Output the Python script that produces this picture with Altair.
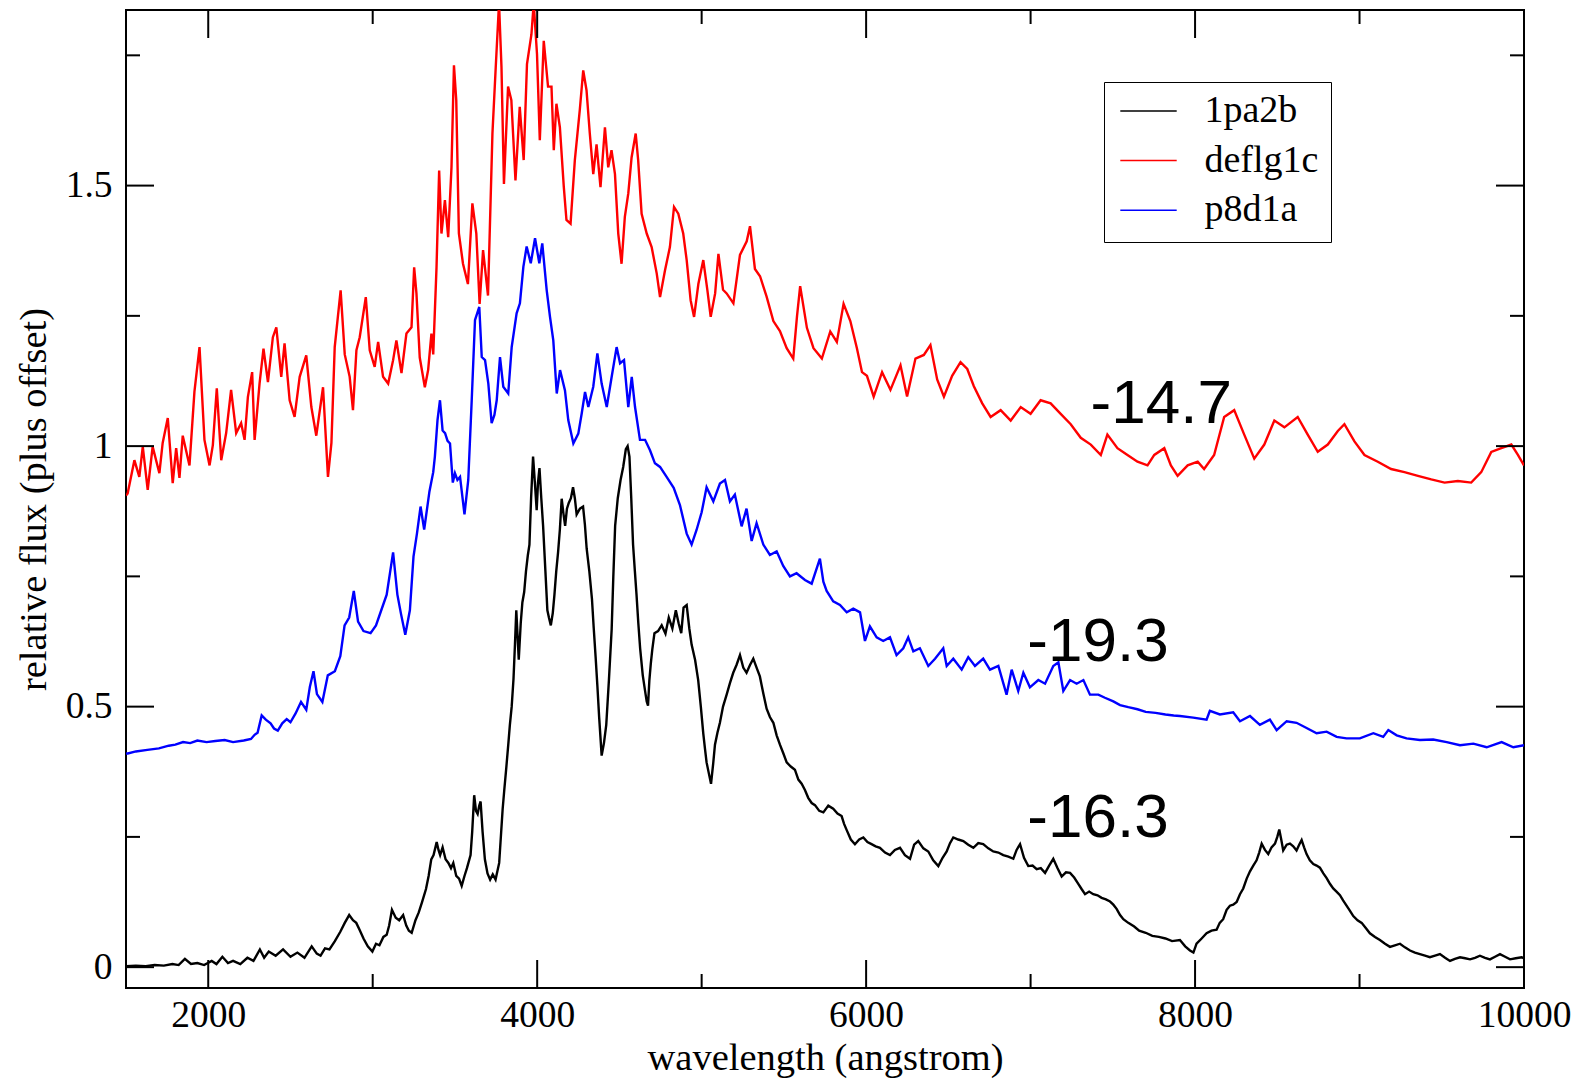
import altair as alt
import pandas as pd

# ---------------- data ----------------
SERIES = ["1pa2b", "deflg1c", "p8d1a"]
COLORS = ["#000000", "#ff0000", "#0000ff"]

BLACK_WL = [1500, 1560, 1620, 1674, 1730, 1782, 1820, 1858, 1895, 1934, 1975, 2021, 2050, 2086, 2120, 2151, 2195, 2238, 2275, 2314,
            2340, 2368, 2410, 2455, 2500, 2542, 2585, 2629, 2660, 2683, 2710, 2737, 2770, 2803, 2830, 2857, 2880, 2900, 2920, 2944,
            2970, 2998, 3020, 3041, 3065, 3085, 3100, 3117, 3140, 3161, 3185, 3204, 3220, 3237, 3260, 3280, 3300, 3324, 3340, 3356,
            3370, 3389, 3400, 3410, 3425, 3443, 3460, 3476, 3490, 3508, 3525, 3541, 3558, 3573, 3595, 3605, 3617, 3628, 3638, 3648,
            3656, 3668, 3682, 3698, 3714, 3730, 3747, 3769, 3790, 3800, 3812, 3825, 3834, 3845, 3856, 3865, 3873, 3888, 3900, 3910,
            3921, 3932, 3943, 3953, 3963, 3975, 3986, 3997, 4005, 4014, 4025, 4036, 4050, 4062, 4072, 4083, 4095, 4105, 4116, 4127,
            4138, 4149, 4160, 4170, 4181, 4192, 4205, 4218, 4229, 4240, 4260, 4279, 4290, 4301, 4317, 4333, 4344, 4355, 4366, 4377,
            4385, 4392, 4406, 4420, 4436, 4453, 4463, 4474, 4490, 4507, 4523, 4539, 4550, 4561, 4572, 4583, 4594, 4604, 4615, 4626,
            4642, 4659, 4666, 4674, 4682, 4691, 4700, 4713, 4735, 4757, 4780, 4800, 4822, 4843, 4860, 4876, 4890, 4909, 4925, 4939,
            4960, 4979, 4995, 5010, 5020, 5030, 5045, 5057, 5070, 5081, 5096, 5111, 5130, 5152, 5172, 5192, 5212, 5233, 5253, 5273,
            5294, 5314, 5334, 5354, 5375, 5395, 5415, 5436, 5456, 5476, 5497, 5517, 5542, 5567, 5588, 5608, 5628, 5648, 5669, 5689,
            5715, 5740, 5770, 5800, 5826, 5851, 5866, 5882, 5907, 5932, 5958, 5983, 6008, 6033, 6058, 6084, 6115, 6145, 6175, 6206,
            6236, 6267, 6292, 6317, 6348, 6378, 6408, 6439, 6465, 6490, 6510, 6530, 6560, 6591, 6621, 6652, 6682, 6712, 6743, 6773,
            6804, 6834, 6865, 6895, 6915, 6936, 6960, 6986, 7012, 7037, 7062, 7088, 7113, 7138, 7164, 7189, 7215, 7240, 7265, 7290,
            7310, 7331, 7356, 7381, 7407, 7432, 7458, 7483, 7503, 7523, 7544, 7564, 7594, 7630, 7660, 7700, 7740, 7780, 7820, 7860,
            7908, 7940, 7969, 7990, 8009, 8040, 8070, 8100, 8131, 8150, 8171, 8192, 8212, 8232, 8253, 8273, 8293, 8314, 8334, 8354,
            8374, 8390, 8405, 8425, 8445, 8465, 8486, 8500, 8512, 8524, 8536, 8557, 8577, 8597, 8617, 8633, 8648, 8663, 8678, 8698,
            8719, 8739, 8759, 8780, 8800, 8820, 8840, 8860, 8881, 8900, 8921, 8942, 8962, 8988, 9013, 9038, 9063, 9094, 9124, 9155,
            9185, 9215, 9246, 9276, 9307, 9337, 9367, 9398, 9428, 9459, 9489, 9520, 9550, 9580, 9611, 9642, 9672, 9702, 9732, 9763,
            9793, 9824, 9854, 9885, 9915, 9950, 9986, 10000]
BLACK_FLUX = [0.002, 0.003, 0.002, 0.004, 0.003, 0.006, 0.004, 0.016, 0.006, 0.008, 0.004, 0.012, 0.006, 0.02, 0.008, 0.012, 0.006, 0.018, 0.012, 0.034,
              0.018, 0.03, 0.022, 0.034, 0.02, 0.028, 0.018, 0.04, 0.026, 0.022, 0.036, 0.034, 0.05, 0.068, 0.085, 0.1, 0.09, 0.085, 0.072, 0.055,
              0.04, 0.03, 0.045, 0.042, 0.058, 0.062, 0.08, 0.11, 0.095, 0.09, 0.1, 0.08, 0.07, 0.066, 0.09, 0.105, 0.125, 0.15, 0.175, 0.207,
              0.215, 0.24, 0.225, 0.215, 0.23, 0.207, 0.2, 0.19, 0.2, 0.175, 0.17, 0.156, 0.175, 0.19, 0.215, 0.26, 0.33, 0.3, 0.294, 0.31,
              0.318, 0.26, 0.207, 0.18, 0.168, 0.178, 0.168, 0.2, 0.303, 0.34, 0.382, 0.43, 0.465, 0.5, 0.553, 0.62, 0.685, 0.59, 0.66, 0.7,
              0.72, 0.76, 0.79, 0.811, 0.9, 0.98, 0.93, 0.877, 0.93, 0.958, 0.9, 0.847, 0.76, 0.685, 0.67, 0.656, 0.68, 0.715, 0.76, 0.796,
              0.84, 0.899, 0.87, 0.847, 0.88, 0.891, 0.9, 0.921, 0.9, 0.869, 0.88, 0.884, 0.85, 0.803, 0.76, 0.707, 0.65, 0.597, 0.54, 0.479,
              0.44, 0.406, 0.43, 0.465, 0.55, 0.649, 0.75, 0.847, 0.9, 0.935, 0.96, 0.994, 1.0, 0.98, 0.9, 0.811, 0.76, 0.715, 0.66, 0.612,
              0.56, 0.524, 0.51, 0.502, 0.55, 0.583, 0.61, 0.641, 0.645, 0.656, 0.64, 0.671, 0.65, 0.685, 0.66, 0.641, 0.69, 0.695, 0.65, 0.619,
              0.59, 0.551, 0.5, 0.448, 0.42, 0.393, 0.37, 0.352, 0.39, 0.427, 0.45, 0.469, 0.5, 0.523, 0.545, 0.565, 0.58, 0.599, 0.575, 0.565,
              0.58, 0.592, 0.575, 0.558, 0.525, 0.496, 0.48, 0.469, 0.445, 0.427, 0.41, 0.393, 0.385, 0.379, 0.36, 0.352, 0.34, 0.325, 0.315, 0.311,
              0.3, 0.297, 0.31, 0.304, 0.295, 0.29, 0.275, 0.263, 0.245, 0.236, 0.245, 0.249, 0.24, 0.236, 0.232, 0.229, 0.22, 0.215, 0.225, 0.229,
              0.215, 0.208, 0.235, 0.242, 0.228, 0.222, 0.205, 0.194, 0.21, 0.222, 0.238, 0.249, 0.245, 0.242, 0.235, 0.229, 0.238, 0.236, 0.228, 0.222,
              0.22, 0.215, 0.212, 0.208, 0.225, 0.236, 0.21, 0.194, 0.195, 0.188, 0.19, 0.181, 0.195, 0.208, 0.19, 0.174, 0.182, 0.181, 0.172, 0.16,
              0.15, 0.14, 0.145, 0.14, 0.138, 0.133, 0.13, 0.126, 0.12, 0.112, 0.1, 0.092, 0.085, 0.078, 0.07, 0.066, 0.06, 0.058, 0.055, 0.05,
              0.052, 0.04, 0.032, 0.028, 0.045, 0.055, 0.065, 0.07, 0.072, 0.085, 0.092, 0.11, 0.118, 0.12, 0.125, 0.14, 0.151, 0.17, 0.184, 0.195,
              0.205, 0.22, 0.237, 0.225, 0.217, 0.23, 0.237, 0.25, 0.264, 0.245, 0.224, 0.235, 0.237, 0.232, 0.224, 0.235, 0.244, 0.23, 0.217, 0.205,
              0.198, 0.195, 0.191, 0.18, 0.171, 0.16, 0.151, 0.145, 0.138, 0.128, 0.118, 0.108, 0.098, 0.09, 0.085, 0.075, 0.065, 0.058, 0.052, 0.045,
              0.039, 0.042, 0.045, 0.038, 0.032, 0.028, 0.025, 0.022, 0.019, 0.022, 0.025, 0.018, 0.012, 0.016, 0.019, 0.017, 0.015, 0.018, 0.022, 0.018,
              0.015, 0.02, 0.025, 0.02, 0.015, 0.017, 0.019, 0.017]

RED_WL = [1500, 1510, 1551, 1581, 1602, 1632, 1662, 1703, 1723, 1754, 1784, 1805, 1825, 1845, 1886, 1916, 1947, 1977, 2008, 2028,
          2052, 2079, 2109, 2139, 2170, 2200, 2221, 2241, 2267, 2282, 2312, 2336, 2363, 2393, 2414, 2444, 2464, 2495, 2525, 2556,
          2596, 2627, 2657, 2698, 2728, 2749, 2769, 2805, 2830, 2860, 2880, 2901, 2921, 2958, 2982, 3012, 3033, 3063, 3094, 3124,
          3144, 3175, 3205, 3236, 3252, 3266, 3286, 3317, 3337, 3357, 3368, 3388, 3404, 3418, 3439, 3459, 3479, 3494, 3508, 3524,
          3549, 3579, 3606, 3630, 3650, 3671, 3701, 3728, 3748, 3768, 3783, 3798, 3823, 3843, 3868, 3894, 3918, 3938, 3965, 3979,
          3999, 4016, 4040, 4066, 4087, 4101, 4117, 4138, 4162, 4178, 4203, 4229, 4259, 4280, 4300, 4320, 4341, 4361, 4385, 4412,
          4432, 4452, 4473, 4493, 4513, 4533, 4554, 4574, 4599, 4614, 4635, 4666, 4696, 4727, 4747, 4777, 4807, 4832, 4858, 4888,
          4909, 4933, 4954, 4980, 5010, 5035, 5055, 5082, 5102, 5130, 5152, 5193, 5233, 5274, 5294, 5324, 5355, 5395, 5436, 5476,
          5517, 5557, 5580, 5599, 5640, 5680, 5731, 5782, 5822, 5863, 5904, 5944, 5975, 6005, 6046, 6097, 6148, 6209, 6249, 6300,
          6351, 6391, 6432, 6473, 6523, 6574, 6615, 6655, 6706, 6757, 6818, 6879, 6940, 7000, 7061, 7122, 7183, 7244, 7305, 7366,
          7427, 7467, 7528, 7589, 7650, 7711, 7752, 7813, 7853, 7894, 7955, 8016, 8055, 8116, 8177, 8238, 8299, 8360, 8421, 8482,
          8543, 8624, 8685, 8746, 8807, 8868, 8908, 8969, 9030, 9111, 9192, 9273, 9355, 9436, 9517, 9598, 9679, 9740, 9801, 9862,
          9923, 9963, 10000]
RED_FLUX = [0.905, 0.909, 0.973, 0.941, 0.999, 0.916, 0.999, 0.948, 1.006, 1.054, 0.929, 0.996, 0.939, 1.02, 0.963, 1.104, 1.19, 1.012, 0.963, 1.002,
            1.111, 0.973, 1.025, 1.108, 1.025, 1.044, 1.012, 1.094, 1.142, 1.012, 1.12, 1.187, 1.123, 1.209, 1.228, 1.133, 1.197, 1.088, 1.056, 1.133,
            1.174, 1.075, 1.02, 1.113, 0.941, 1.006, 1.19, 1.299, 1.176, 1.133, 1.069, 1.184, 1.209, 1.286, 1.184, 1.152, 1.2, 1.133, 1.12, 1.165,
            1.203, 1.14, 1.216, 1.228, 1.343, 1.293, 1.17, 1.113, 1.146, 1.216, 1.176, 1.343, 1.529, 1.408, 1.472, 1.401, 1.535, 1.731, 1.664, 1.408,
            1.35, 1.311, 1.466, 1.408, 1.273, 1.376, 1.289, 1.6, 1.727, 1.85, 1.727, 1.503, 1.69, 1.664, 1.51, 1.651, 1.549, 1.733, 1.79, 1.85,
            1.752, 1.587, 1.778, 1.69, 1.69, 1.568, 1.657, 1.612, 1.497, 1.434, 1.427, 1.549, 1.645, 1.721, 1.683, 1.6, 1.522, 1.579, 1.497, 1.612,
            1.535, 1.568, 1.522, 1.408, 1.35, 1.44, 1.485, 1.554, 1.6, 1.549, 1.446, 1.408, 1.382, 1.331, 1.286, 1.337, 1.382, 1.459, 1.446, 1.408,
            1.357, 1.28, 1.248, 1.311, 1.357, 1.299, 1.248, 1.293, 1.369, 1.3, 1.293, 1.274, 1.367, 1.393, 1.422, 1.34, 1.326, 1.287, 1.24, 1.221,
            1.188, 1.168, 1.25, 1.307, 1.227, 1.188, 1.168, 1.22, 1.2, 1.273, 1.24, 1.188, 1.142, 1.135, 1.095, 1.142, 1.108, 1.155, 1.095, 1.168,
            1.175, 1.194, 1.128, 1.095, 1.135, 1.161, 1.148, 1.115, 1.082, 1.056, 1.069, 1.049, 1.075, 1.062, 1.088, 1.082, 1.062, 1.042, 1.016, 1.003,
            0.983, 1.022, 0.996, 0.983, 0.97, 0.963, 0.983, 0.996, 0.963, 0.943, 0.963, 0.97, 0.956, 0.983, 1.056, 1.069, 1.022, 0.976, 1.003, 1.049,
            1.036, 1.056, 1.022, 0.989, 1.003, 1.029, 1.042, 1.009, 0.983, 0.97, 0.956, 0.95, 0.943, 0.936, 0.93, 0.933, 0.93, 0.95, 0.989, 0.996,
            1.003, 0.983, 0.963]

BLUE_WL = [1500, 1511, 1560, 1630, 1700, 1760, 1800, 1847, 1890, 1934, 1990, 2043, 2100, 2151, 2216, 2260, 2282, 2300, 2325, 2350,
           2379, 2400, 2423, 2450, 2477, 2500, 2531, 2564, 2596, 2618, 2640, 2661, 2694, 2727, 2770, 2803, 2829, 2857, 2885, 2911,
           2944, 2987, 3020, 3052, 3085, 3124, 3150, 3172, 3198, 3226, 3248, 3269, 3291, 3313, 3345, 3368, 3378, 3394, 3409, 3425,
           3440, 3455, 3470, 3487, 3500, 3515, 3531, 3558, 3581, 3602, 3622, 3648, 3663, 3683, 3703, 3723, 3740, 3754, 3774, 3794,
           3824, 3845, 3875, 3895, 3916, 3936, 3961, 3987, 4013, 4031, 4058, 4078, 4098, 4119, 4139, 4169, 4189, 4220, 4250, 4271,
           4291, 4311, 4341, 4366, 4392, 4423, 4453, 4483, 4504, 4528, 4554, 4575, 4595, 4625, 4656, 4686, 4716, 4747, 4787, 4830,
           4868, 4909, 4939, 4969, 5000, 5030, 5071, 5111, 5142, 5172, 5202, 5243, 5273, 5304, 5334, 5375, 5415, 5456, 5496, 5537,
           5577, 5628, 5669, 5719, 5740, 5760, 5800, 5841, 5882, 5922, 5963, 5993, 6023, 6064, 6104, 6145, 6185, 6226, 6256, 6287,
           6327, 6378, 6419, 6469, 6490, 6530, 6581, 6621, 6662, 6712, 6753, 6804, 6854, 6885, 6925, 6956, 6996, 7047, 7088, 7138,
           7169, 7199, 7240, 7280, 7321, 7361, 7412, 7452, 7503, 7544, 7594, 7650, 7700, 7760, 7820, 7870, 7908, 7989, 8070, 8090,
           8151, 8232, 8273, 8334, 8394, 8455, 8496, 8557, 8617, 8678, 8739, 8800, 8861, 8921, 9002, 9084, 9144, 9175, 9226, 9286,
           9367, 9448, 9530, 9611, 9692, 9773, 9864, 9935, 10000]
BLUE_FLUX = [0.41, 0.41, 0.414, 0.417, 0.42, 0.425, 0.427, 0.432, 0.43, 0.435, 0.432, 0.434, 0.436, 0.432, 0.435, 0.438, 0.446, 0.45, 0.483, 0.475,
             0.468, 0.458, 0.454, 0.468, 0.476, 0.47, 0.487, 0.509, 0.494, 0.538, 0.568, 0.524, 0.509, 0.56, 0.568, 0.597, 0.656, 0.671, 0.722, 0.663,
             0.645, 0.641, 0.656, 0.685, 0.715, 0.796, 0.715, 0.678, 0.638, 0.685, 0.788, 0.832, 0.884, 0.84, 0.913, 0.95, 0.98, 1.05, 1.088, 1.03,
             1.025, 1.01, 1.005, 0.93, 0.948, 0.935, 0.941, 0.869, 0.935, 1.088, 1.242, 1.267, 1.171, 1.165, 1.12, 1.044, 1.06, 1.088, 1.171, 1.114,
             1.101, 1.19, 1.255, 1.274, 1.344, 1.383, 1.351, 1.399, 1.351, 1.389, 1.299, 1.248, 1.203, 1.101, 1.146, 1.107, 1.05, 1.005, 1.024, 1.063,
             1.104, 1.075, 1.114, 1.178, 1.12, 1.075, 1.133, 1.19, 1.159, 1.165, 1.075, 1.133, 1.075, 1.012, 1.012, 0.992, 0.967, 0.96, 0.941, 0.92,
             0.887, 0.832, 0.811, 0.839, 0.873, 0.921, 0.894, 0.928, 0.935, 0.894, 0.907, 0.846, 0.88, 0.818, 0.852, 0.811, 0.791, 0.798, 0.77, 0.75,
             0.756, 0.743, 0.736, 0.784, 0.74, 0.722, 0.702, 0.695, 0.681, 0.688, 0.681, 0.626, 0.654, 0.633, 0.626, 0.633, 0.599, 0.612, 0.633, 0.606,
             0.612, 0.578, 0.592, 0.612, 0.578, 0.592, 0.571, 0.595, 0.578, 0.592, 0.571, 0.578, 0.523, 0.571, 0.53, 0.565, 0.537, 0.551, 0.544, 0.578,
             0.585, 0.53, 0.551, 0.544, 0.551, 0.523, 0.523, 0.517, 0.51, 0.503, 0.499, 0.495, 0.49, 0.488, 0.485, 0.483, 0.482, 0.479, 0.475, 0.492,
             0.485, 0.489, 0.472, 0.482, 0.465, 0.475, 0.455, 0.472, 0.469, 0.459, 0.449, 0.452, 0.442, 0.439, 0.439, 0.449, 0.442, 0.455, 0.445, 0.439,
             0.436, 0.437, 0.432, 0.426, 0.429, 0.422, 0.432, 0.422, 0.426]

X_MAJOR = [2000, 4000, 6000, 8000, 10000]
X_MINOR = [3000, 5000, 7000, 9000]
Y_MAJOR = [0, 0.5, 1, 1.5]
Y_MINOR = [0.25, 0.75, 1.25, 1.75]

NOTE_TEXT = ["-14.7", "-19.3", "-16.3"]
NOTE_WL = [7365, 6980, 6980]
NOTE_FLUX = [1.045, 0.587, 0.250]

X_DOMAIN = [1500, 10000]
Y_DOMAIN = [-0.04, 1.837]

# ---------------- tables ----------------
rows = []
for name, xs, ys in [("1pa2b", BLACK_WL, BLACK_FLUX), ("deflg1c", RED_WL, RED_FLUX), ("p8d1a", BLUE_WL, BLUE_FLUX)]:
    for i, (x, y) in enumerate(zip(xs, ys)):
        rows.append({"wavelength": x, "flux": y, "series": name, "idx": i})
spec_df = pd.DataFrame(rows)
notes_df = pd.DataFrame({"wavelength": NOTE_WL, "flux": NOTE_FLUX, "text": NOTE_TEXT})

W, H = 1398, 978
MAJ, MIN = 28, 14
SERIF = "Liberation Serif"

xscale = alt.Scale(domain=X_DOMAIN, nice=False, zero=False)
yscale = alt.Scale(domain=Y_DOMAIN, nice=False, zero=False)

x_axis = alt.Axis(values=X_MAJOR, format="d", ticks=False, tickSize=0, domain=False, grid=False,
                  labelFont=SERIF, labelFontSize=37.5, labelColor="black", labelPadding=8,
                  labelFlush=False, labelOverlap=False,
                  title="wavelength (angstrom)", titleFont=SERIF, titleFontSize=38.5,
                  titleFontWeight="normal", titleColor="black", titleBaseline="alphabetic",
                  titleY=81, titleX=W / 2)
y_axis = alt.Axis(values=Y_MAJOR, format="~g", ticks=False, tickSize=0, domain=False, grid=False,
                  labelFont=SERIF, labelFontSize=37.5, labelColor="black", labelPadding=14,
                  labelFlush=False, labelOverlap=False,
                  title="relative flux (plus offset)", titleFont=SERIF, titleFontSize=38.5,
                  titleFontWeight="normal", titleColor="black", titleAngle=270,
                  titleBaseline="alphabetic", titleX=-81, titleY=H / 2)

X_ENC = dict(scale=xscale, axis=x_axis, title="wavelength (angstrom)")
Y_ENC = dict(scale=yscale, axis=y_axis, title="relative flux (plus offset)")

lines = alt.Chart(spec_df).mark_line(strokeWidth=2.4, clip=True).encode(
    x=alt.X("wavelength:Q", **X_ENC),
    y=alt.Y("flux:Q", **Y_ENC),
    color=alt.Color("series:N", scale=alt.Scale(domain=SERIES, range=COLORS),
                    legend=alt.Legend(title=None, orient="none", legendX=978, legendY=72,
                                      symbolType="stroke", symbolSize=3181, symbolStrokeWidth=1.5,
                                      symbolOffset=3,
                                      labelFont=SERIF, labelFontSize=38, labelColor="black",
                                      labelOffset=27, padding=12.5, clipHeight=33, rowPadding=10.6,
                                      strokeColor="black")),
    order="idx:Q",
)

def tick_layer(values, channel, side, length):
    df = pd.DataFrame({"v": values})
    base = alt.Chart(df).mark_rule(color="black", strokeWidth=2)
    if channel == "x":
        enc = dict(x=alt.X("v:Q", **X_ENC))
        if side == "bottom":
            enc.update(y=alt.value(H), y2=alt.value(H - length))
        else:
            enc.update(y=alt.value(0), y2=alt.value(length))
    else:
        enc = dict(y=alt.Y("v:Q", **Y_ENC))
        if side == "left":
            enc.update(x=alt.value(0), x2=alt.value(length))
        else:
            enc.update(x=alt.value(W - length), x2=alt.value(W))
    return base.encode(**enc)

ticks = [
    tick_layer(X_MAJOR, "x", "bottom", MAJ), tick_layer(X_MINOR, "x", "bottom", MIN),
    tick_layer(X_MAJOR, "x", "top", MAJ), tick_layer(X_MINOR, "x", "top", MIN),
    tick_layer(Y_MAJOR, "y", "left", MAJ), tick_layer(Y_MINOR, "y", "left", MIN),
    tick_layer(Y_MAJOR, "y", "right", MAJ), tick_layer(Y_MINOR, "y", "right", MIN),
]

notes = alt.Chart(notes_df).mark_text(align="left", baseline="alphabetic", font="Liberation Sans",
                                      fontSize=62, color="black").encode(
    x=alt.X("wavelength:Q", **X_ENC),
    y=alt.Y("flux:Q", **Y_ENC),
    text="text:N",
)

chart = alt.layer(lines, *ticks, notes).properties(
    width=W, height=H,
    padding={"left": 126, "top": 10, "right": 55, "bottom": 93},
    autosize=alt.AutoSizeParams(type="none"),
    background="white",
).configure_view(stroke="black", strokeWidth=2)

chart.save("out.html", embed_options={"renderer": "svg", "actions": False})
